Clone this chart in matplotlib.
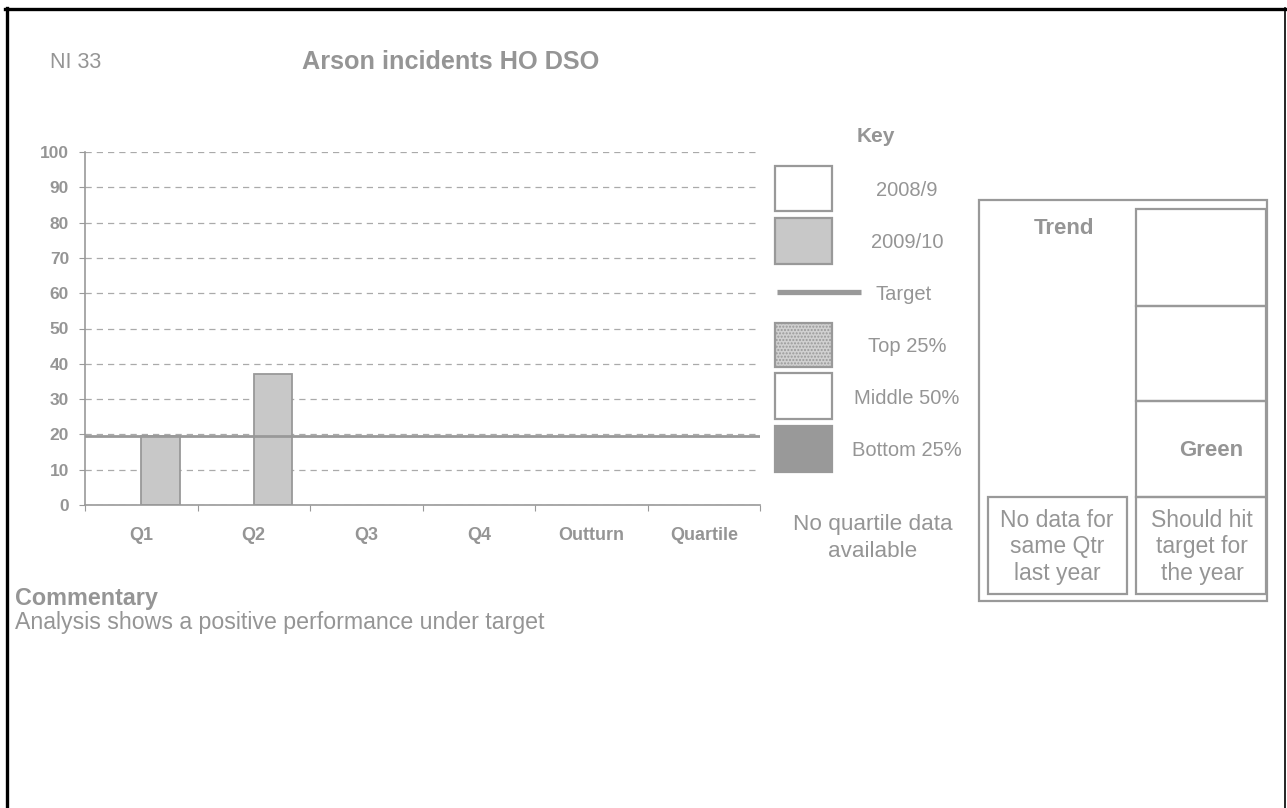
import numpy as np
import matplotlib.pyplot as plt
from matplotlib.patches import Rectangle

plt.rcParams['font.family'] = ['Liberation Sans', 'DejaVu Sans']

GREY = '#999999'
TEXT = '#959595'

categories = ['Q1', 'Q2', 'Q3', 'Q4', 'Outturn', 'Quartile']
prev_year = [np.nan, np.nan, np.nan, np.nan, np.nan, np.nan]   # 2008/9, no data
this_year = [19.5, 37, np.nan, np.nan, np.nan, np.nan]         # 2009/10
target = 19.5
key_labels = ['2008/9', '2009/10', 'Target', 'Top 25%', 'Middle 50%', 'Bottom 25%']

fig = plt.figure(figsize=(12.87, 8.08), dpi=100)

# page layer in pixel coords
bg = fig.add_axes([0, 0, 1, 1])
bg.set_xlim(0, 1287)
bg.set_ylim(808, 0)
bg.axis('off')

# black frame (bottom is cut off)
bg.plot([6.5, 6.5], [8, 810], color='black', lw=2.4)
bg.plot([5, 1285], [8.5, 8.5], color='black', lw=2.4)
bg.plot([1285, 1285], [8, 810], color='black', lw=1.2)

bg.text(50, 62, 'NI 33', fontsize=15.5, color=TEXT, va='center')
bg.text(302, 62, 'Arson incidents HO DSO', fontsize=18.2, color=TEXT,
        fontweight='bold', va='center')

# bar chart
ax = fig.add_axes([85 / 1287, 1 - 505 / 808, 675 / 1287, 353 / 808])
x = np.arange(len(categories))
w = 0.34
ax.bar(x - w / 2, prev_year, w, color='white', edgecolor=GREY, lw=1.3, zorder=2)
ax.bar(x + w / 2, this_year, w, color='#c8c8c8', edgecolor=GREY, lw=1.3, zorder=2)
ax.axhline(target, color=GREY, lw=2, zorder=3)

ax.set_ylim(0, 100)
ax.set_xlim(-0.5, 5.5)
ax.set_yticks(range(0, 101, 10))
ax.yaxis.grid(True, ls=(0, (5, 4)), color='#aaaaaa', lw=0.9)
ax.set_axisbelow(True)

ax.set_xticks(np.arange(-0.5, 6, 1))
ax.set_xticklabels([])
ax.set_xticks(x, minor=True)
ax.set_xticklabels(categories, minor=True, fontsize=13, fontweight='bold', color=TEXT)
ax.tick_params(axis='x', which='minor', length=0, pad=16)
ax.tick_params(axis='x', which='major', length=4.5, color=GREY)
ax.tick_params(axis='y', length=4.5, color=GREY, pad=7, labelsize=12.5, labelcolor=TEXT)
for lbl in ax.get_yticklabels():
    lbl.set_fontweight('bold')

for s in ['top', 'right']:
    ax.spines[s].set_visible(False)
for s in ['left', 'bottom']:
    ax.spines[s].set_color(GREY)
    ax.spines[s].set_linewidth(1.2)

# key
bg.text(876, 136, 'Key', fontsize=15, fontweight='bold', color=TEXT, ha='center', va='center')
key_rows = [(166, 211), (218, 264), None, (323, 367), (373, 419), (426, 472)]
key_fill = ['white', '#c8c8c8', None, '#d0d0d0', 'white', '#999999']
key_y = [190, 242, 294, 346, 398, 450]
for rows, fill, lab, ty in zip(key_rows, key_fill, key_labels, key_y):
    if rows is None:
        bg.plot([777, 861], [292, 292], color=GREY, lw=3.8, solid_capstyle='butt')
        bg.text(875, ty, lab, fontsize=14.5, color=TEXT, va='center')
        continue
    hatch = '.....' if lab == 'Top 25%' else None
    bg.add_patch(Rectangle((775, rows[0]), 57, rows[1] - rows[0], facecolor=fill,
                           edgecolor=GREY, lw=1.6, hatch=hatch))
    bg.text(907, ty, lab, fontsize=14.5, color=TEXT, ha='center', va='center')

bg.text(873, 538, 'No quartile data\navailable', fontsize=16.2, color=TEXT,
        ha='center', va='center', linespacing=1.4)

# trend panel
bg.add_patch(Rectangle((979, 200), 288, 401, facecolor='none', edgecolor=GREY, lw=1.6))
bg.add_patch(Rectangle((988, 497), 139, 97, facecolor='none', edgecolor=GREY, lw=1.6))
for top, bot in [(209, 306), (306, 401), (401, 497), (497, 594)]:
    bg.add_patch(Rectangle((1136, top), 130, bot - top, facecolor='none',
                           edgecolor=GREY, lw=1.6))
bg.text(1064, 228, 'Trend', fontsize=16, fontweight='bold', color=TEXT,
        ha='center', va='center')
bg.text(1211, 451, 'Green', fontsize=16, fontweight='bold', color=TEXT,
        ha='center', va='center')
bg.text(1057, 547, 'No data for\nsame Qtr\nlast year', fontsize=16.5, color=TEXT,
        ha='center', va='center', linespacing=1.2)
bg.text(1202, 547, 'Should hit\ntarget for\nthe year', fontsize=16.5, color=TEXT,
        ha='center', va='center', linespacing=1.2)

# commentary
bg.text(15, 598, 'Commentary', fontsize=16.8, fontweight='bold', color=TEXT, va='center')
bg.text(15, 622, 'Analysis shows a positive performance under target', fontsize=16.7,
        color=TEXT, va='center')

fig.savefig('out.png', dpi=100)
